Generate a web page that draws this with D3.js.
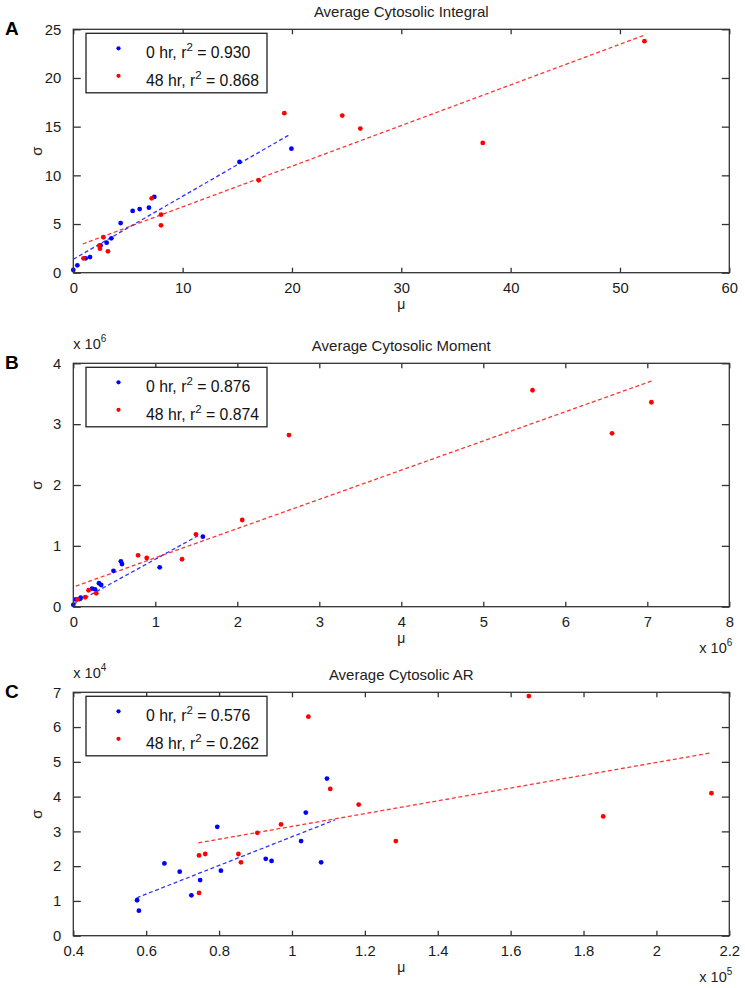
<!DOCTYPE html>
<html><head><meta charset="utf-8">
<script src="https://cdn.jsdelivr.net/npm/d3@7/dist/d3.min.js"></script>
<style>
html,body{margin:0;padding:0;background:#fff;}
svg text{font-family:"Liberation Sans",Arial,sans-serif;}
</style></head>
<body>
<svg id="chart" width="745" height="988"></svg>
<script>
// ---------- DATA ----------
const titles = ["Average Cytosolic Integral", "Average Cytosolic Moment", "Average Cytosolic AR"];
const letters = ["A", "B", "C"];
const seriesNames = ["0 hr", "48 hr"];

// Panel A
const xTicksA = [0, 10, 20, 30, 40, 50, 60];
const yTicksA = [0, 5, 10, 15, 20, 25];
const muA0 = [0.0, 0.37, 1.13, 1.53, 2.5, 3.05, 3.48, 4.33, 5.43, 6.07, 6.92, 7.41, 15.2, 19.95];
const sigmaA0 = [0.28, 0.76, 1.48, 1.61, 2.8, 3.08, 3.53, 5.1, 6.34, 6.54, 6.68, 7.78, 11.38, 12.74];
const muA48 = [0.93, 2.38, 2.44, 2.75, 3.17, 7.17, 8.02, 8.02, 16.96, 19.3, 24.6, 26.25, 37.45, 52.24];
const sigmaA48 = [1.48, 2.77, 2.47, 3.64, 2.2, 7.64, 5.96, 4.87, 9.49, 16.38, 16.14, 14.8, 13.33, 23.78];
const fitA0 = [1.38, 0.647, 0.0, 19.8];     // intercept, slope, xmin, xmax
const fitA48 = [2.59, 0.4175, 0.86, 52.24];
const r2A = ["0.930", "0.868"];

// Panel B (units of 10^6)
const xTicksB = [0, 1, 2, 3, 4, 5, 6, 7, 8];
const yTicksB = [0, 1, 2, 3, 4];
const muB0 = [0.0, 0.03, 0.08, 0.09, 0.228, 0.265, 0.313, 0.34, 0.49, 0.58, 0.594, 1.054, 1.58];
const sigmaB0 = [0.03, 0.12, 0.13, 0.15, 0.296, 0.285, 0.385, 0.357, 0.59, 0.746, 0.70, 0.647, 1.15];
const muB48 = [0.05, 0.146, 0.187, 0.28, 0.79, 0.895, 1.326, 1.496, 2.06, 2.63, 5.60, 6.57, 7.05];
const sigmaB48 = [0.12, 0.155, 0.27, 0.22, 0.845, 0.80, 0.78, 1.19, 1.425, 2.82, 3.557, 2.85, 3.36];
const fitB0 = [0.04, 0.74, 0.0, 1.52];
const fitB48 = [0.324, 0.48, 0.03, 7.05];
const r2B = ["0.876", "0.874"];

// Panel C (x in units of 10^5, y in units of 10^4)
const xTicksC = [0.4, 0.6, 0.8, 1.0, 1.2, 1.4, 1.6, 1.8, 2.0, 2.2];
const xTickLabelsC = ["0.4", "0.6", "0.8", "1", "1.2", "1.4", "1.6", "1.8", "2", "2.2"];
const yTicksC = [0, 1, 2, 3, 4, 5, 6, 7];
const muC0 = [0.575, 0.58, 0.65, 0.692, 0.724, 0.748, 0.795, 0.805, 0.928, 0.944, 1.025, 1.038, 1.08, 1.096];
const sigmaC0 = [1.02, 0.72, 2.08, 1.84, 1.16, 1.60, 3.13, 1.87, 2.21, 2.15, 2.72, 3.54, 2.11, 4.52];
const muC48 = [0.745, 0.762, 0.745, 0.853, 0.86, 0.905, 0.97, 1.045, 1.105, 1.183, 1.285, 1.65, 1.854, 2.151];
const sigmaC48 = [2.31, 2.35, 1.23, 2.35, 2.11, 2.96, 3.20, 6.30, 4.22, 3.77, 2.72, 6.89, 3.43, 4.10];
const fitC0 = [-1.275, 4.12, 0.574, 1.118];
const fitC48 = [1.303, 1.84, 0.743, 2.151];
const r2C = ["0.576", "0.262"];

// ---------- DRAW ----------
const svg = d3.select("#chart");
const colors = ["#0000ff", "#ff0000"];
const boxColor = "#333";
const left = 73.3, right = 729.3;

const panels = [
  {top: 29.3, bottom: 272.7, xd: [0, 60], yd: [0, 25], xt: xTicksA, xl: xTicksA.map(String), yt: yTicksA,
   s: [[muA0, sigmaA0], [muA48, sigmaA48]], f: [fitA0, fitA48], r2: r2A, yExp: null, xExp: null},
  {top: 363.3, bottom: 606.7, xd: [0, 8], yd: [0, 4], xt: xTicksB, xl: xTicksB.map(String), yt: yTicksB,
   s: [[muB0, sigmaB0], [muB48, sigmaB48]], f: [fitB0, fitB48], r2: r2B, yExp: "6", xExp: "6"},
  {top: 692.3, bottom: 935.7, xd: [0.4, 2.2], yd: [0, 7], xt: xTicksC, xl: xTickLabelsC, yt: yTicksC,
   s: [[muC0, sigmaC0], [muC48, sigmaC48]], f: [fitC0, fitC48], r2: r2C, yExp: "4", xExp: "5"}
];

panels.forEach((p, i) => {
  const x = d3.scaleLinear().domain(p.xd).range([left, right]);
  const y = d3.scaleLinear().domain(p.yd).range([p.bottom, p.top]);
  const g = svg.append("g");

  // title
  g.append("text").attr("x", (left + right) / 2).attr("y", p.top - 12.5)
    .attr("text-anchor", "middle").attr("font-size", 15).attr("fill", "#222").text(titles[i]);
  // panel letter
  g.append("text").attr("x", 5).attr("y", p.top + 5.5)
    .attr("font-size", 19).attr("font-weight", "bold").attr("fill", "#000").text(letters[i]);

  // fits
  p.f.forEach((f, k) => {
    const pts = [f[2], f[3]].map(v => [x(v), y(f[0] + f[1] * v)]);
    g.append("path").attr("d", d3.line()(pts)).attr("fill", "none")
      .attr("stroke", colors[k]).attr("stroke-opacity", 0.8).attr("stroke-width", 1.3)
      .attr("stroke-dasharray", "4,2.6");
  });

  // points
  p.s.forEach((s, k) => {
    g.append("g").selectAll("circle").data(d3.range(s[0].length)).join("circle")
      .attr("cx", j => x(s[0][j])).attr("cy", j => y(s[1][j])).attr("r", 2.4)
      .attr("fill", colors[k]);
  });

  // box
  g.append("rect").attr("x", left).attr("y", p.top).attr("width", right - left)
    .attr("height", p.bottom - p.top).attr("fill", "none").attr("stroke", boxColor).attr("stroke-width", 1.3);

  // axes with inward ticks
  const ax = g.append("g").attr("transform", `translate(0,${p.bottom})`)
    .call(d3.axisBottom(x).tickValues(p.xt).tickFormat((d, j) => p.xl[j]).tickSizeInner(-5).tickSizeOuter(0).tickPadding(10));
  const axT = g.append("g").attr("transform", `translate(0,${p.top})`)
    .call(d3.axisTop(x).tickValues(p.xt).tickFormat("").tickSizeInner(-5).tickSizeOuter(0));
  const ay = g.append("g").attr("transform", `translate(${left},0)`)
    .call(d3.axisLeft(y).tickValues(p.yt).tickFormat(d => String(d)).tickSizeInner(-7.5).tickSizeOuter(0).tickPadding(12));
  const ayR = g.append("g").attr("transform", `translate(${right},0)`)
    .call(d3.axisRight(y).tickValues(p.yt).tickFormat("").tickSizeInner(-7.5).tickSizeOuter(0));
  [ax, axT, ay, ayR].forEach(a => {
    a.select(".domain").remove();
    a.selectAll("line").attr("stroke", boxColor).attr("stroke-width", 1.3);
    a.selectAll("text").attr("font-size", 14.8).attr("fill", "#1a1a1a")
      .attr("font-family", '"Liberation Sans",Arial,sans-serif');
  });

  // axis labels
  g.append("text").attr("x", (left + right) / 2).attr("y", p.bottom + 36)
    .attr("text-anchor", "middle").attr("font-size", 14).attr("fill", "#222").text("μ");
  const cy = (p.top + p.bottom) / 2;
  g.append("text").attr("transform", `translate(42,${cy}) rotate(-90)`)
    .attr("text-anchor", "middle").attr("font-size", 15).attr("fill", "#222").text("σ");

  // exponents
  if (p.yExp) {
    const t = g.append("text").attr("x", left).attr("y", p.top - 14).attr("font-size", 14.5).attr("fill", "#222");
    t.append("tspan").text("x 10");
    t.append("tspan").attr("dy", -7).attr("font-size", 10).text(p.yExp);
  }
  if (p.xExp) {
    const t = g.append("text").attr("x", right + 3).attr("y", p.bottom + 46).attr("text-anchor", "end")
      .attr("font-size", 14.5).attr("fill", "#222");
    t.append("tspan").text("x 10");
    t.append("tspan").attr("dy", -7).attr("font-size", 10).text(p.xExp);
  }

  // legend
  const lx = 86, ly = p.top + 4, lw = 181, lh = 59.5;
  const lg = g.append("g");
  lg.append("rect").attr("x", lx).attr("y", ly).attr("width", lw).attr("height", lh)
    .attr("fill", "#fff").attr("stroke", "#222").attr("stroke-width", 1.3);
  [0, 1].forEach(k => {
    const my = ly + 15 + k * 27.5;
    lg.append("circle").attr("cx", 118.5).attr("cy", my).attr("r", 2.1).attr("fill", colors[k]);
    const t = lg.append("text").attr("x", 146).attr("y", ly + 24.5 + k * 27.8)
      .attr("font-size", 15.8).attr("fill", "#111");
    t.append("tspan").text(seriesNames[k] + ", r");
    t.append("tspan").attr("dy", -7).attr("font-size", 11.5).text("2");
    t.append("tspan").attr("dy", 7).text(" = " + p.r2[k]);
  });
});
</script>
</body></html>
